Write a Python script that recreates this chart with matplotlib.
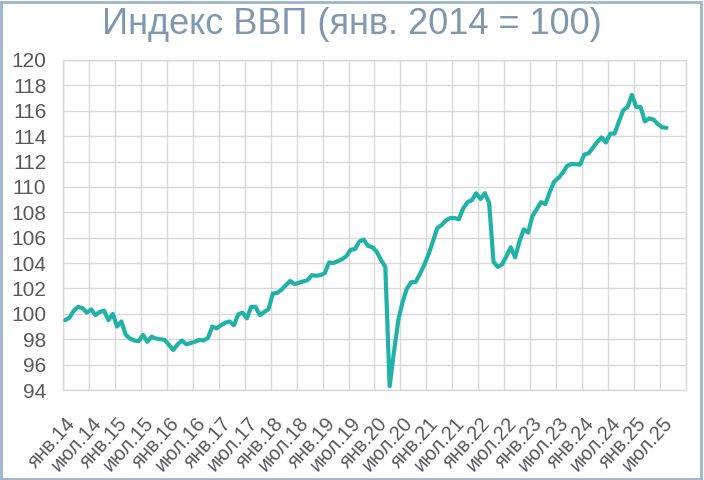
import matplotlib
matplotlib.use("Agg")
import matplotlib.pyplot as plt
import numpy as np
from matplotlib.patches import Rectangle

plt.rcParams['font.family'] = ['Liberation Sans', 'DejaVu Sans']

title = "Индекс ВВП (янв. 2014 = 100)"

# Monthly GDP index, Jan 2014 = 100
y2014 = [99.5, 99.7, 100.25, 100.55, 100.45, 100.1, 100.35, 99.9, 100.15, 100.25, 99.5, 100.0]
y2015 = [99.0, 99.4, 98.35, 98.05, 97.9, 97.85, 98.35, 97.8, 98.2, 98.05, 98.0, 97.95]
y2016 = [97.55, 97.15, 97.6, 97.9, 97.6, 97.7, 97.8, 97.95, 97.9, 98.1, 99.0, 98.85]
y2017 = [99.1, 99.3, 99.4, 99.1, 99.95, 100.1, 99.65, 100.55, 100.55, 99.9, 100.15, 100.35]
y2018 = [101.6, 101.65, 101.9, 102.25, 102.6, 102.35, 102.45, 102.55, 102.65, 103.05, 103.0, 103.05]
y2019 = [103.2, 104.05, 104.0, 104.15, 104.3, 104.55, 105.05, 105.1, 105.7, 105.85, 105.35, 105.25]
y2020 = [104.9, 104.25, 103.7, 94.3, 97.0, 99.5, 100.95, 102.0, 102.5, 102.5, 103.15, 103.85]
y2021 = [104.7, 105.7, 106.75, 107.0, 107.35, 107.55, 107.55, 107.45, 108.3, 108.8, 108.95, 109.5]
y2022 = [109.05, 109.5, 108.75, 104.1, 103.7, 103.9, 104.55, 105.25, 104.45, 105.7, 106.65, 106.4]
y2023 = [107.7, 108.25, 108.8, 108.65, 109.6, 110.4, 110.7, 111.1, 111.65, 111.8, 111.8, 111.75]
y2024 = [112.55, 112.65, 113.1, 113.55, 113.9, 113.5, 114.2, 114.2, 115.15, 116.05, 116.3, 117.25]
y2025 = [116.3, 116.3, 115.15, 115.4, 115.3, 114.95, 114.7, 114.65]

tick_labels = ["янв.14", "июл.14", "янв.15", "июл.15", "янв.16", "июл.16",
               "янв.17", "июл.17", "янв.18", "июл.18", "янв.19", "июл.19",
               "янв.20", "июл.20", "янв.21", "июл.21", "янв.22", "июл.22",
               "янв.23", "июл.23", "янв.24", "июл.24", "янв.25", "июл.25"]

values = np.array(y2014 + y2015 + y2016 + y2017 + y2018 + y2019 +
                  y2020 + y2021 + y2022 + y2023 + y2024 + y2025)
n_months = 12 * len(tick_labels) // 2  # axis spans Jan 2014 .. Dec 2025
xpos = np.arange(len(values)) + 0.5

fig = plt.figure(figsize=(7.04, 4.80), dpi=100)
ax = fig.add_axes([63/704, 90/480, (686-63)/704, (390-60)/480])

ax.plot(xpos, values, color='#20B2A6', lw=3.0, solid_joinstyle='round',
        solid_capstyle='round', zorder=3)

ax.set_xlim(0, n_months)
ax.set_ylim(94, 120)
ax.set_yticks(np.arange(94, 121, 2))
ax.set_xticks(np.arange(0, n_months + 1, 6))
ax.set_xticklabels([])
ax.set_xticks(np.arange(0, n_months, 6) + 0.5, minor=True)
ax.set_xticklabels(tick_labels, minor=True, rotation=48, ha='right', va='top',
                   rotation_mode='anchor')
ax.grid(True, which='major', color='#D9D9D9', lw=1.0, zorder=0)
ax.tick_params(axis='both', which='both', length=0, colors='#595959')
ax.tick_params(axis='y', labelsize=15, pad=12)
ax.tick_params(axis='x', which='minor', labelsize=14.5, pad=17)
for sp in ax.spines.values():
    sp.set_color('#D9D9D9')
    sp.set_linewidth(1.0)

fig.text(0.5, 1 - 24/480, title, ha='center', va='center', fontsize=26,
         color='#7F98AD')

fig.patches.append(Rectangle((0.002, 0.003), 0.994, 0.992, transform=fig.transFigure,
                             fill=False, edgecolor='#9DB4CC', lw=2.0))

fig.savefig('out.png', dpi=100)
